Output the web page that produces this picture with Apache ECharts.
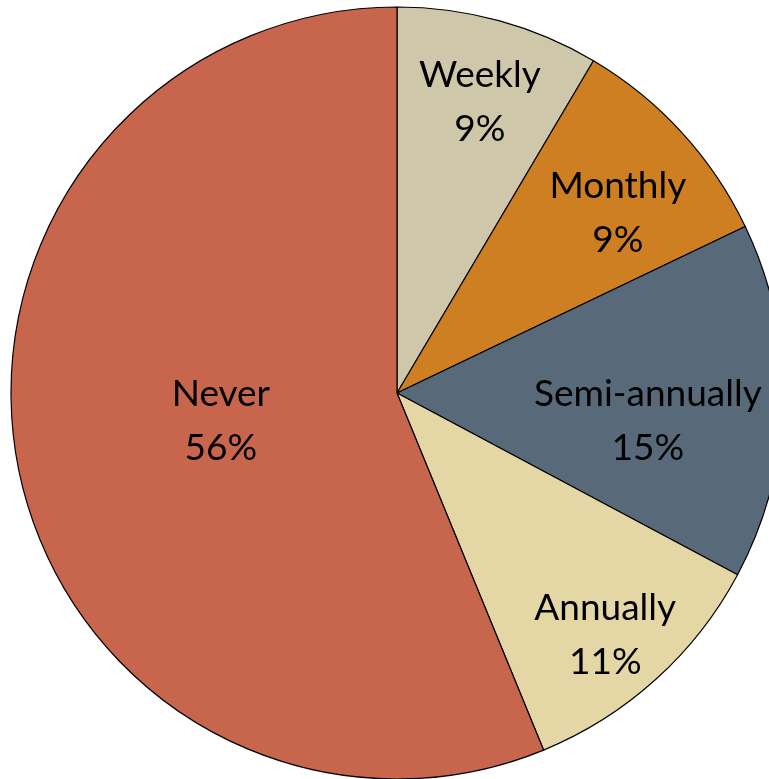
<!DOCTYPE html>
<html>
<head>
<meta charset="utf-8">
<title>Frequency</title>
<script src="https://cdn.jsdelivr.net/npm/echarts@6/dist/echarts.min.js"></script>
<style>
    html, body { margin: 0; padding: 0; background: #fff; }
    #freq_pie { width: 769px; height: 779px; }
</style>
</head>
<body>
<div id="freq_pie"></div>
<script>
// data
var categories = ['Weekly', 'Monthly', 'Semi-annually', 'Annually', 'Never'];
var shares = [8.5, 9.4, 14.9, 11.0, 56.2]; // percent of respondents
var sliceColors = ['#cfc7a9', '#cd7f22', '#586a7a', '#e4d7a5', '#c8654d'];

// label placement (fraction of radius, angle nudge in degrees)
var labelRadius = [0.784, 0.738, 0.654, 0.827, 0.462];
var labelNudge = [0.6, 3.3, 5.1, 1.4, 2.1];

var cx = 397, cy = 393, R = 386;

var total = shares.reduce(function (a, b) { return a + b; }, 0);
var midAngles = [];
var acc = 0;
shares.forEach(function (v) {
    midAngles.push((acc + v / 2) / total * 360);
    acc += v;
});

var myChart = echarts.init(document.getElementById('freq_pie'));
var options = {
    backgroundColor: '#fff',
    animation: false,
    series: [
        {
            type: 'pie',
            center: [cx, cy],
            radius: [0, R],
            startAngle: 90,
            clockwise: true,
            percentPrecision: 0,
            avoidLabelOverlap: false,
            itemStyle: {
                borderColor: '#000',
                borderWidth: 1.2
            },
            label: {
                show: true,
                position: 'inside',
                formatter: '{b}\n{d}%',
                color: '#000',
                fontFamily: 'Lato',
                fontSize: 37,
                lineHeight: 54,
                textBorderWidth: 0
            },
            labelLine: { show: false },
            labelLayout: function (params) {
                var i = params.dataIndex;
                var a = (midAngles[i] + labelNudge[i]) * Math.PI / 180;
                var r = labelRadius[i] * R;
                return {
                    x: cx + r * Math.sin(a),
                    y: cy - r * Math.cos(a),
                    align: 'center',
                    verticalAlign: 'middle'
                };
            },
            data: categories.map(function (name, i) {
                return { name: name, value: shares[i], itemStyle: { color: sliceColors[i] } };
            })
        }
    ]
};
myChart.setOption(options);
</script>
</body>
</html>
